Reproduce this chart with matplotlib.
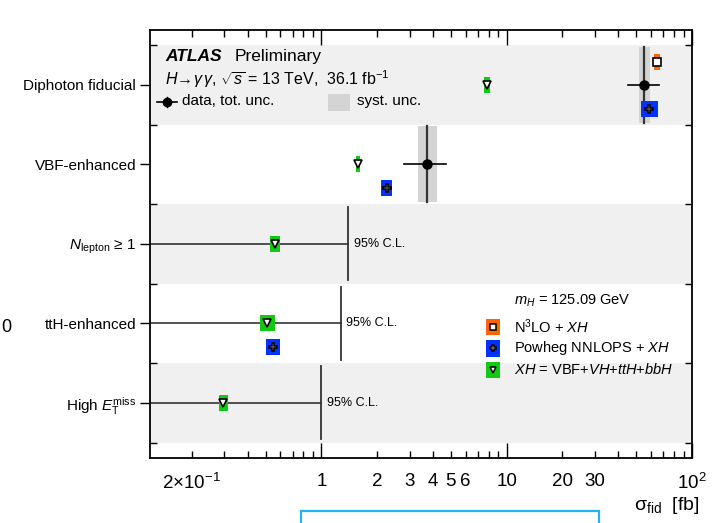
import numpy as np
import matplotlib
matplotlib.use("Agg")
import matplotlib.pyplot as plt
from matplotlib.patches import Rectangle

plt.rcParams["font.family"] = ["Liberation Sans", "DejaVu Sans"]
plt.rcParams["mathtext.fontset"] = "custom"
plt.rcParams["mathtext.rm"] = "Liberation Sans"
plt.rcParams["mathtext.it"] = "Liberation Sans:italic"
plt.rcParams["mathtext.bf"] = "Liberation Sans:bold"
plt.rcParams["mathtext.sf"] = "Liberation Sans"

# -------------------------------------------------------------------------
# DATA (cross sections in fb)
# -------------------------------------------------------------------------
categories = [
    "Diphoton fiducial",
    "VBF-enhanced",
    r"$N_{\mathrm{lepton}}$ ≥ 1",
    "ttH-enhanced",
    r"High $E_{\mathrm{T}}^{\mathrm{miss}}$",
]

# measured
meas_cats = ["Diphoton fiducial", "VBF-enhanced"]
meas_val = [55.0, 3.73]
meas_tot_lo = [45.1, 2.81]
meas_tot_hi = [66.3, 4.72]
meas_syst_lo = [51.7, 3.34]
meas_syst_hi = [59.3, 4.19]

# 95% CL upper limits
lim_cats = [r"$N_{\mathrm{lepton}}$ ≥ 1", "ttH-enhanced", r"High $E_{\mathrm{T}}^{\mathrm{miss}}$"]
lim_val = [1.39, 1.27, 1.00]

# predictions
n3lo_cats = ["Diphoton fiducial"]
n3lo_val = [64.4]
n3lo_lo = [62.2]
n3lo_hi = [67.2]

powheg_cats = ["Diphoton fiducial", "VBF-enhanced", "ttH-enhanced"]
powheg_val = [58.6, 2.25, 0.55]
powheg_lo = [53.0, 2.11, 0.502]
powheg_hi = [65.5, 2.41, 0.600]

xh_cats = categories
xh_val = [7.8, 1.57, 0.564, 0.51, 0.296]
xh_lo = [7.54, 1.53, 0.530, 0.468, 0.280]
xh_hi = [8.13, 1.61, 0.600, 0.564, 0.314]

major_x = [1, 10, 100]
major_lbl = ["1", "10", "10$^{2}$"]
minor_x = [0.2, 0.3, 0.4, 0.5, 0.6, 0.7, 0.8, 0.9,
           2, 3, 4, 5, 6, 7, 8, 9,
           20, 30, 40, 50, 60, 70, 80, 90]
minor_lbl = ["2×10$^{-1}$", "", "", "", "", "", "", "",
             "2", "3", "4", "5", "6", "", "", "",
             "20", "30", "", "", "", "", "", ""]

# -------------------------------------------------------------------------
# STYLE
# -------------------------------------------------------------------------
ORANGE = "#ff6600"
BLUE = "#0033ff"
GREEN = "#10cc10"
BAND = "#f0f0f0"
SYST = "#d4d4d4"
XMIN, XMAX = 0.119, 100

n = len(categories)
row_y = {c: n - i for i, c in enumerate(categories)}

fig = plt.figure(figsize=(7.26, 5.23), dpi=100)
ax = fig.add_axes([150 / 726, 65 / 523, 542 / 726, 428 / 523])
ax.set_xscale("log")
ax.set_xlim(XMIN, XMAX)
ax.set_ylim(0.305, n + 0.69)

# alternating row bands
for i, c in enumerate(categories):
    if i % 2 == 0:
        y = row_y[c]
        ax.add_patch(Rectangle((XMIN, y - 0.5), XMAX - XMIN, 1.0,
                               facecolor=BAND, edgecolor="none", zorder=0))

# measurements
for c, v, tlo, thi, slo, shi in zip(meas_cats, meas_val, meas_tot_lo,
                                   meas_tot_hi, meas_syst_lo, meas_syst_hi):
    y = row_y[c]
    ax.add_patch(Rectangle((slo, y - 0.48), shi - slo, 0.96,
                           facecolor=SYST, edgecolor="none", zorder=1))
    ax.plot([v, v], [y - 0.48, y + 0.48], color="#333333", lw=1.6, zorder=2)
    ax.plot([tlo, thi], [y, y], color="black", lw=1.2, zorder=5)
    ax.plot(v, y, "o", color="black", ms=6.5, zorder=6)

# limits
for c, v in zip(lim_cats, lim_val):
    y = row_y[c]
    ax.plot([XMIN, v], [y, y], color="#333333", lw=1.2, zorder=2)
    ax.plot([v, v], [y - 0.46, y + 0.46], color="#333333", lw=1.3, zorder=2)
    ax.text(v * 1.075, y, "95% C.L.", fontsize=9, va="center", ha="left")


def draw_pred(cats, vals, los, his, dy, color, marker, ms):
    for c, v, lo, hi in zip(cats, vals, los, his):
        y = row_y[c] + dy
        ax.add_patch(Rectangle((lo, y - 0.1), hi - lo, 0.2,
                               facecolor=color, edgecolor="none", zorder=3))
        ax.plot(v, y, marker, mfc="white", mec="black", ms=ms, mew=1.2, zorder=4)


draw_pred(n3lo_cats, n3lo_val, n3lo_lo, n3lo_hi, 0.29, ORANGE, "s", 5.5)
draw_pred(powheg_cats, powheg_val, powheg_lo, powheg_hi, -0.30, BLUE, "P", 6)
draw_pred(xh_cats, xh_val, xh_lo, xh_hi, 0.0, GREEN, "v", 5.5)

# axes ticks
ax.set_yticks([row_y[c] for c in categories])
ax.set_yticklabels(categories, fontsize=11)
ax.set_yticks(np.arange(0.5, n + 1, 1.0), minor=True)
ax.tick_params(axis="y", which="major", direction="out", length=7, width=1,
               left=True, right=False, pad=3)
ax.tick_params(axis="y", which="minor", direction="in", length=5, width=1,
               left=True, right=True)

ax.set_xticks(major_x, major_lbl)
ax.set_xticks(minor_x, minor_lbl, minor=True)
ax.tick_params(axis="x", which="both", direction="in", top=True, bottom=True,
               labelsize=13.5, pad=11, width=1)
ax.tick_params(axis="x", which="major", length=11)
ax.tick_params(axis="x", which="minor", length=5)
for s in ax.spines.values():
    s.set_linewidth(1.3)

fig.text(700 / 726, 18 / 523, r"$\mathrm{\sigma}_{\mathrm{fid}}$  [fb]",
         fontsize=14, ha="right", va="center")

# ATLAS label and legend (axes coordinates)
ta = ax.transAxes
ax.text(0.028, 0.937, "ATLAS", fontsize=12.5, fontweight="bold",
        style="italic", transform=ta, va="center")
ax.text(0.157, 0.937, "Preliminary", fontsize=12.5, transform=ta, va="center")
ax.text(0.028, 0.884,
        r"$H\!\rightarrow\!\gamma\,\gamma$, $\sqrt{s}$ = 13 TeV,  36.1 fb$^{-1}$",
        fontsize=11.5, transform=ta, va="center")
ax.plot([0.013, 0.050], [0.832, 0.832], color="black", lw=1.2, transform=ta)
ax.plot([0.0315, 0.0315], [0.820, 0.844], color="black", lw=1, transform=ta)
ax.plot(0.0315, 0.832, "o", color="black", ms=6, transform=ta)
ax.text(0.059, 0.834, "data, tot. unc.", fontsize=11, transform=ta, va="center")
ax.add_patch(Rectangle((0.328, 0.811), 0.041, 0.040, facecolor=SYST,
                       edgecolor="none", transform=ta))
ax.text(0.382, 0.834, "syst. unc.", fontsize=11, transform=ta, va="center")

ax.text(0.672, 0.367, r"$m_{H}$ = 125.09 GeV", fontsize=10.5, transform=ta,
        va="center")
leg = [("N$^{3}$LO + $XH$", ORANGE, "s", 5),
       ("Powheg NNLOPS + $XH$", BLUE, "P", 5),
       ("$XH$ = VBF+$VH$+$ttH$+$bbH$", GREEN, "v", 5)]
for k, (lbl, col, mk, ms) in enumerate(leg):
    yy = 0.306 - k * 0.050
    ax.add_patch(Rectangle((0.620, yy - 0.019), 0.026, 0.038, facecolor=col,
                           edgecolor="none", transform=ta, zorder=3))
    ax.plot(0.633, yy, mk, mfc="white", mec="black", ms=ms, mew=1.1,
            transform=ta, zorder=4)
    ax.text(0.672, yy, lbl, fontsize=10.5, transform=ta, va="center")

# remnants from the surrounding page
fig.text(1 / 726, (523 - 328) / 523, "0", fontsize=13, ha="left", va="center")
fig.patches.append(Rectangle((301 / 726, -0.05), 298 / 726, 12 / 523 + 0.05,
                             fill=False, edgecolor="#1fb5f0", lw=1.6,
                             transform=fig.transFigure, figure=fig))

fig.savefig("out.png", dpi=100)
